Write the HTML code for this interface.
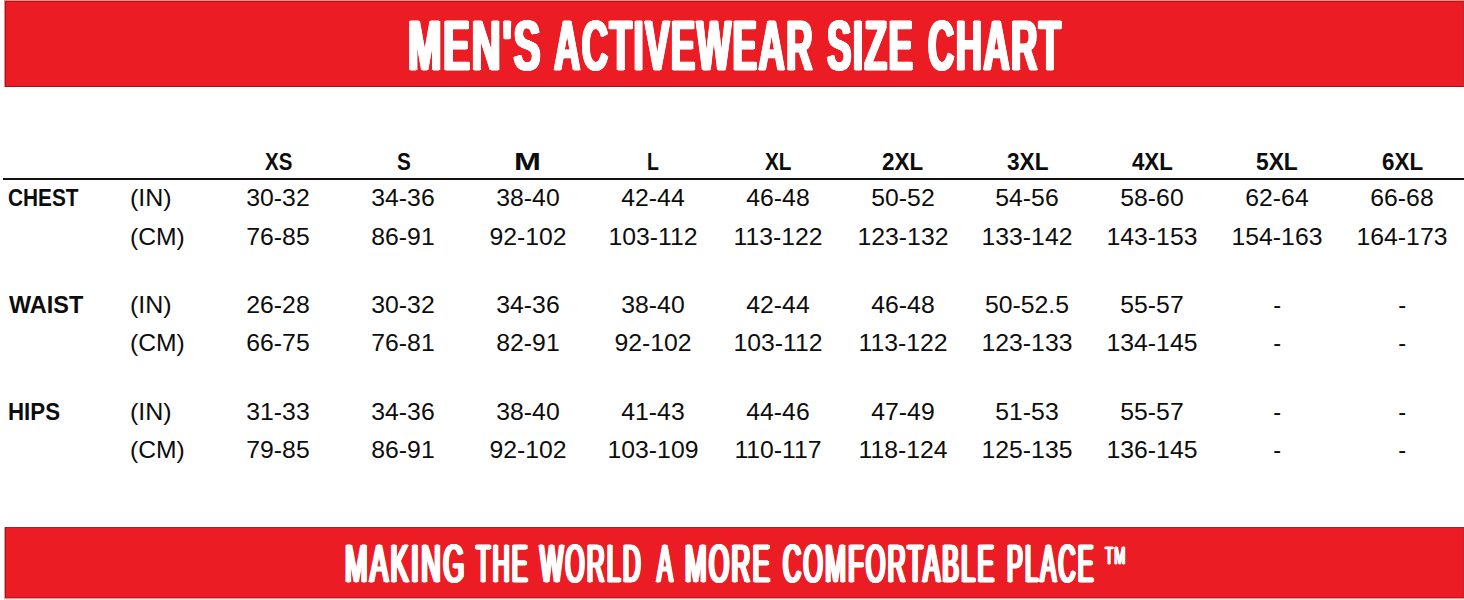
<!DOCTYPE html>
<html><head><meta charset="utf-8"><style>
html,body{margin:0;padding:0;background:#fff;}
body{width:1464px;height:600px;position:relative;overflow:hidden;font-family:"Liberation Sans",sans-serif;color:#0d0d0d;}
.c,.l{position:absolute;font-size:23.6px;line-height:1;white-space:nowrap;}
.c{transform-origin:50% 0;}
.l{transform-origin:0 0;}
.banner{position:absolute;left:4px;right:0;background:#ec1c24;box-sizing:border-box;border-top:1px solid #b3141a;border-bottom:1px solid #a8121a;border-left:1px solid #b3141a;}
.tw{position:absolute;white-space:nowrap;color:#fff;font-weight:bold;line-height:1;transform-origin:0 0;top:11.4px;font-size:70px;-webkit-text-stroke:1.0px #fff;text-shadow:0.50px 0 #fff,-0.50px 0 #fff,1.00px 0 #fff,-1.00px 0 #fff,1.50px 0 #fff,-1.50px 0 #fff,2.00px 0 #fff,-2.00px 0 #fff,2.50px 0 #fff,-2.50px 0 #fff;letter-spacing:3px;}
.bw{position:absolute;white-space:nowrap;color:#fff;font-weight:normal;line-height:1;transform-origin:0 0;top:537px;font-size:53.5px;-webkit-text-stroke:1.2px #fff;text-shadow:0.50px 0 #fff,-0.50px 0 #fff,1.00px 0 #fff,-1.00px 0 #fff,1.50px 0 #fff,-1.50px 0 #fff,2.00px 0 #fff,-2.00px 0 #fff,2.50px 0 #fff,-2.50px 0 #fff,3.00px 0 #fff,-3.00px 0 #fff;letter-spacing:5px;}
.tm{position:absolute;white-space:nowrap;color:#fff;line-height:1;transform-origin:0 0;}
.rule{position:absolute;left:3px;right:0;top:178px;height:2px;background:#111;}
</style></head><body>
<div style="position:absolute;left:4px;top:0;width:1460px;height:87px;background:#e98a88;"></div>
<div style="position:absolute;left:5px;top:1px;width:1459px;height:86px;box-sizing:border-box;background:#ec1c24;border-top:1px solid #b5171b;border-left:1px solid #a8141c;border-bottom:1px solid #9c1419;border-right:1px solid #c4282e;"></div>
<div class="tw" style="left:407.85px;transform:scaleX(0.5734)">MEN'S</div>
<div class="tw" style="left:554.22px;transform:scaleX(0.5196)">ACTIVEWEAR</div>
<div class="tw" style="left:827.00px;transform:scaleX(0.5212)">SIZE</div>
<div class="tw" style="left:927.50px;transform:scaleX(0.5174)">CHART</div>
<div class="rule"></div>
<div class="l" style="left:264.83px;top:150.82px;font-weight:bold;transform:scaleX(0.8667)">XS</div>
<div class="l" style="left:396.52px;top:150.82px;font-weight:bold;transform:scaleX(0.8786)">S</div>
<div class="l" style="left:514.16px;top:150.82px;font-weight:bold;transform:scaleX(1.3687)">M</div>
<div class="l" style="left:646.75px;top:150.82px;font-weight:bold;transform:scaleX(0.8250)">L</div>
<div class="l" style="left:764.52px;top:150.82px;font-weight:bold;transform:scaleX(0.8786)">XL</div>
<div class="l" style="left:881.85px;top:150.82px;font-weight:bold;transform:scaleX(0.9488)">2XL</div>
<div class="l" style="left:1006.84px;top:150.82px;font-weight:bold;transform:scaleX(0.9585)">3XL</div>
<div class="l" style="left:1132.30px;top:150.82px;font-weight:bold;transform:scaleX(0.9429)">4XL</div>
<div class="l" style="left:1256.33px;top:150.82px;font-weight:bold;transform:scaleX(0.9659)">5XL</div>
<div class="l" style="left:1381.95px;top:150.82px;font-weight:bold;transform:scaleX(0.9488)">6XL</div>
<div class="l" style="left:8.02px;top:186.82px;font-weight:bold;transform:scaleX(0.8823)">CHEST</div>
<div class="l" style="left:129.68px;top:186.82px;transform:scaleX(1.0611)">(IN)</div>
<div class="l" style="left:129.71px;top:225.82px;transform:scaleX(1.0449)">(CM)</div>
<div class="c" style="left:278.00px;top:186.82px;transform:translateX(-50%) scaleX(1.0500)">30-32</div>
<div class="c" style="left:278.00px;top:225.82px;transform:translateX(-50%) scaleX(1.0500)">76-85</div>
<div class="c" style="left:402.90px;top:186.82px;transform:translateX(-50%) scaleX(1.0500)">34-36</div>
<div class="c" style="left:402.90px;top:225.82px;transform:translateX(-50%) scaleX(1.0500)">86-91</div>
<div class="c" style="left:527.80px;top:186.82px;transform:translateX(-50%) scaleX(1.0500)">38-40</div>
<div class="c" style="left:527.80px;top:225.82px;transform:translateX(-50%) scaleX(1.0500)">92-102</div>
<div class="c" style="left:652.70px;top:186.82px;transform:translateX(-50%) scaleX(1.0500)">42-44</div>
<div class="c" style="left:652.70px;top:225.82px;transform:translateX(-50%) scaleX(1.0500)">103-112</div>
<div class="c" style="left:777.60px;top:186.82px;transform:translateX(-50%) scaleX(1.0500)">46-48</div>
<div class="c" style="left:777.60px;top:225.82px;transform:translateX(-50%) scaleX(1.0500)">113-122</div>
<div class="c" style="left:902.50px;top:186.82px;transform:translateX(-50%) scaleX(1.0500)">50-52</div>
<div class="c" style="left:902.50px;top:225.82px;transform:translateX(-50%) scaleX(1.0500)">123-132</div>
<div class="c" style="left:1027.40px;top:186.82px;transform:translateX(-50%) scaleX(1.0500)">54-56</div>
<div class="c" style="left:1027.40px;top:225.82px;transform:translateX(-50%) scaleX(1.0500)">133-142</div>
<div class="c" style="left:1152.30px;top:186.82px;transform:translateX(-50%) scaleX(1.0500)">58-60</div>
<div class="c" style="left:1152.30px;top:225.82px;transform:translateX(-50%) scaleX(1.0500)">143-153</div>
<div class="c" style="left:1277.20px;top:186.82px;transform:translateX(-50%) scaleX(1.0500)">62-64</div>
<div class="c" style="left:1277.20px;top:225.82px;transform:translateX(-50%) scaleX(1.0500)">154-163</div>
<div class="c" style="left:1402.10px;top:186.82px;transform:translateX(-50%) scaleX(1.0500)">66-68</div>
<div class="c" style="left:1402.10px;top:225.82px;transform:translateX(-50%) scaleX(1.0500)">164-173</div>
<div class="l" style="left:8.50px;top:293.82px;font-weight:bold;transform:scaleX(0.9932)">WAIST</div>
<div class="l" style="left:129.68px;top:293.82px;transform:scaleX(1.0611)">(IN)</div>
<div class="l" style="left:129.71px;top:332.32px;transform:scaleX(1.0449)">(CM)</div>
<div class="c" style="left:278.00px;top:293.82px;transform:translateX(-50%) scaleX(1.0500)">26-28</div>
<div class="c" style="left:278.00px;top:332.32px;transform:translateX(-50%) scaleX(1.0500)">66-75</div>
<div class="c" style="left:402.90px;top:293.82px;transform:translateX(-50%) scaleX(1.0500)">30-32</div>
<div class="c" style="left:402.90px;top:332.32px;transform:translateX(-50%) scaleX(1.0500)">76-81</div>
<div class="c" style="left:527.80px;top:293.82px;transform:translateX(-50%) scaleX(1.0500)">34-36</div>
<div class="c" style="left:527.80px;top:332.32px;transform:translateX(-50%) scaleX(1.0500)">82-91</div>
<div class="c" style="left:652.70px;top:293.82px;transform:translateX(-50%) scaleX(1.0500)">38-40</div>
<div class="c" style="left:652.70px;top:332.32px;transform:translateX(-50%) scaleX(1.0500)">92-102</div>
<div class="c" style="left:777.60px;top:293.82px;transform:translateX(-50%) scaleX(1.0500)">42-44</div>
<div class="c" style="left:777.60px;top:332.32px;transform:translateX(-50%) scaleX(1.0500)">103-112</div>
<div class="c" style="left:902.50px;top:293.82px;transform:translateX(-50%) scaleX(1.0500)">46-48</div>
<div class="c" style="left:902.50px;top:332.32px;transform:translateX(-50%) scaleX(1.0500)">113-122</div>
<div class="c" style="left:1027.40px;top:293.82px;transform:translateX(-50%) scaleX(1.0500)">50-52.5</div>
<div class="c" style="left:1027.40px;top:332.32px;transform:translateX(-50%) scaleX(1.0500)">123-133</div>
<div class="c" style="left:1152.30px;top:293.82px;transform:translateX(-50%) scaleX(1.0500)">55-57</div>
<div class="c" style="left:1152.30px;top:332.32px;transform:translateX(-50%) scaleX(1.0500)">134-145</div>
<div class="c" style="left:1277.20px;top:293.82px;transform:translateX(-50%) scaleX(1.0000)">-</div>
<div class="c" style="left:1277.20px;top:332.32px;transform:translateX(-50%) scaleX(1.0000)">-</div>
<div class="c" style="left:1402.10px;top:293.82px;transform:translateX(-50%) scaleX(1.0000)">-</div>
<div class="c" style="left:1402.10px;top:332.32px;transform:translateX(-50%) scaleX(1.0000)">-</div>
<div class="l" style="left:7.67px;top:401.32px;font-weight:bold;transform:scaleX(0.9450)">HIPS</div>
<div class="l" style="left:129.68px;top:401.32px;transform:scaleX(1.0611)">(IN)</div>
<div class="l" style="left:129.71px;top:439.32px;transform:scaleX(1.0449)">(CM)</div>
<div class="c" style="left:278.00px;top:401.32px;transform:translateX(-50%) scaleX(1.0500)">31-33</div>
<div class="c" style="left:278.00px;top:439.32px;transform:translateX(-50%) scaleX(1.0500)">79-85</div>
<div class="c" style="left:402.90px;top:401.32px;transform:translateX(-50%) scaleX(1.0500)">34-36</div>
<div class="c" style="left:402.90px;top:439.32px;transform:translateX(-50%) scaleX(1.0500)">86-91</div>
<div class="c" style="left:527.80px;top:401.32px;transform:translateX(-50%) scaleX(1.0500)">38-40</div>
<div class="c" style="left:527.80px;top:439.32px;transform:translateX(-50%) scaleX(1.0500)">92-102</div>
<div class="c" style="left:652.70px;top:401.32px;transform:translateX(-50%) scaleX(1.0500)">41-43</div>
<div class="c" style="left:652.70px;top:439.32px;transform:translateX(-50%) scaleX(1.0500)">103-109</div>
<div class="c" style="left:777.60px;top:401.32px;transform:translateX(-50%) scaleX(1.0500)">44-46</div>
<div class="c" style="left:777.60px;top:439.32px;transform:translateX(-50%) scaleX(1.0500)">110-117</div>
<div class="c" style="left:902.50px;top:401.32px;transform:translateX(-50%) scaleX(1.0500)">47-49</div>
<div class="c" style="left:902.50px;top:439.32px;transform:translateX(-50%) scaleX(1.0500)">118-124</div>
<div class="c" style="left:1027.40px;top:401.32px;transform:translateX(-50%) scaleX(1.0500)">51-53</div>
<div class="c" style="left:1027.40px;top:439.32px;transform:translateX(-50%) scaleX(1.0500)">125-135</div>
<div class="c" style="left:1152.30px;top:401.32px;transform:translateX(-50%) scaleX(1.0500)">55-57</div>
<div class="c" style="left:1152.30px;top:439.32px;transform:translateX(-50%) scaleX(1.0500)">136-145</div>
<div class="c" style="left:1277.20px;top:401.32px;transform:translateX(-50%) scaleX(1.0000)">-</div>
<div class="c" style="left:1277.20px;top:439.32px;transform:translateX(-50%) scaleX(1.0000)">-</div>
<div class="c" style="left:1402.10px;top:401.32px;transform:translateX(-50%) scaleX(1.0000)">-</div>
<div class="c" style="left:1402.10px;top:439.32px;transform:translateX(-50%) scaleX(1.0000)">-</div>
<div style="position:absolute;left:4px;top:527px;width:1460px;height:73px;background:#fbe7dc;"></div>
<div style="position:absolute;left:4px;top:527px;width:1460px;height:72px;background:#e39a9a;"></div>
<div style="position:absolute;left:5px;top:527px;width:1459px;height:71px;box-sizing:border-box;background:#ec1c24;border-top:1px solid #8e2a3c;border-left:1px solid #a8141c;border-bottom:1px solid #c2172a;border-right:1px solid #c4282e;"></div>
<div class="bw" style="left:344.59px;transform:scaleX(0.5051)">MAKING</div>
<div class="bw" style="left:475.78px;transform:scaleX(0.4408)">THE</div>
<div class="bw" style="left:540.28px;transform:scaleX(0.4587)">WORLD</div>
<div class="bw" style="left:657.02px;transform:scaleX(0.4390)">A</div>
<div class="bw" style="left:685.12px;transform:scaleX(0.4834)">MORE</div>
<div class="bw" style="left:783.00px;transform:scaleX(0.4667)">COMFORTABLE</div>
<div class="bw" style="left:1006.76px;transform:scaleX(0.4426)">PLACE</div>
<div class="bw" style="left:1104.86px;top:544.0px;font-size:24px;-webkit-text-stroke:0.8px #fff;text-shadow:0.50px 0 #fff,-0.50px 0 #fff,1.00px 0 #fff,-1.00px 0 #fff,1.50px 0 #fff,-1.50px 0 #fff;letter-spacing:2px;transform:scaleX(0.5568)">TM</div>
</body></html>
